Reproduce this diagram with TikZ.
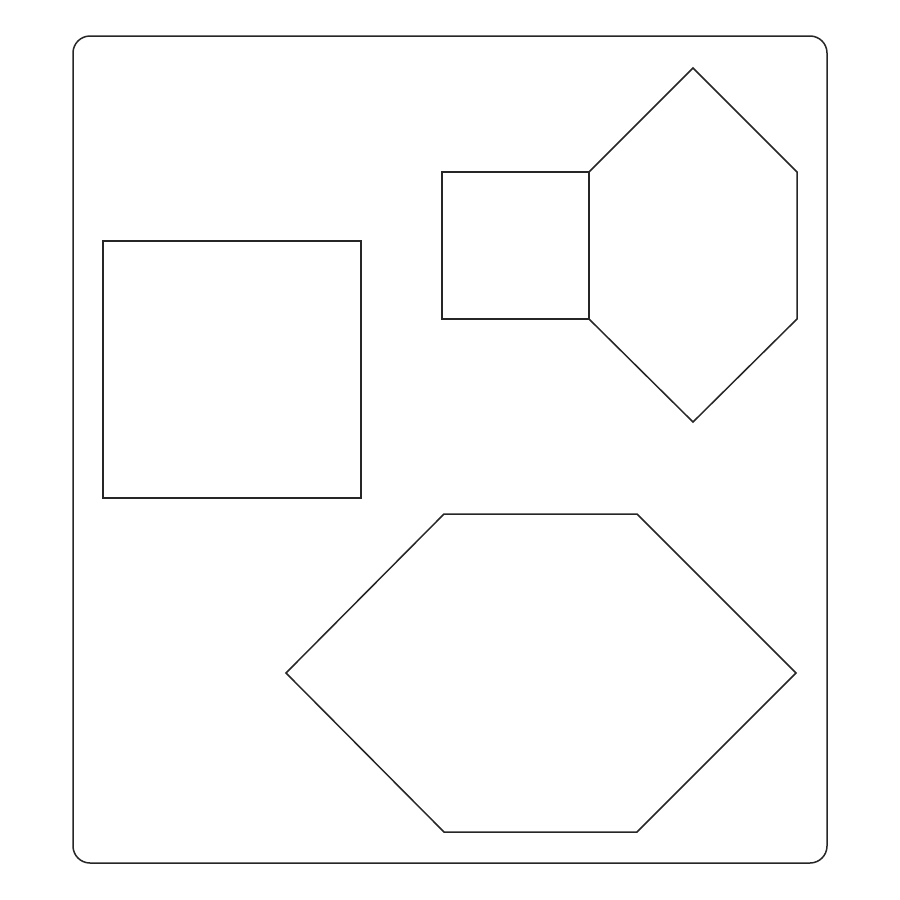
\documentclass[tikz,border=0pt]{standalone}
\begin{document}
\begin{tikzpicture}[x=1pt,y=-1pt,
  shape line/.style={draw=black!85, line width=1.5pt, line join=miter}]
\useasboundingbox (0,0) rectangle (900,900);
\fill[white] (0,0) rectangle (900,900);
% outer board
\draw[shape line, rounded corners=17pt] (73,36) rectangle (827,863);
% left square
\draw[shape line] (103,241) rectangle (361,498);
% small square
\draw[shape line] (442,172) rectangle (589,319);
% upper hexagon
\draw[shape line] (589,172) -- (693,68) -- (797,172) -- (797,319) -- (693,422) -- (589,319) -- cycle;
% bottom hexagon
\draw[shape line] (444,514) -- (637,514) -- (796,673) -- (637,832) -- (444,832) -- (286,673) -- cycle;
\end{tikzpicture}
\end{document}
